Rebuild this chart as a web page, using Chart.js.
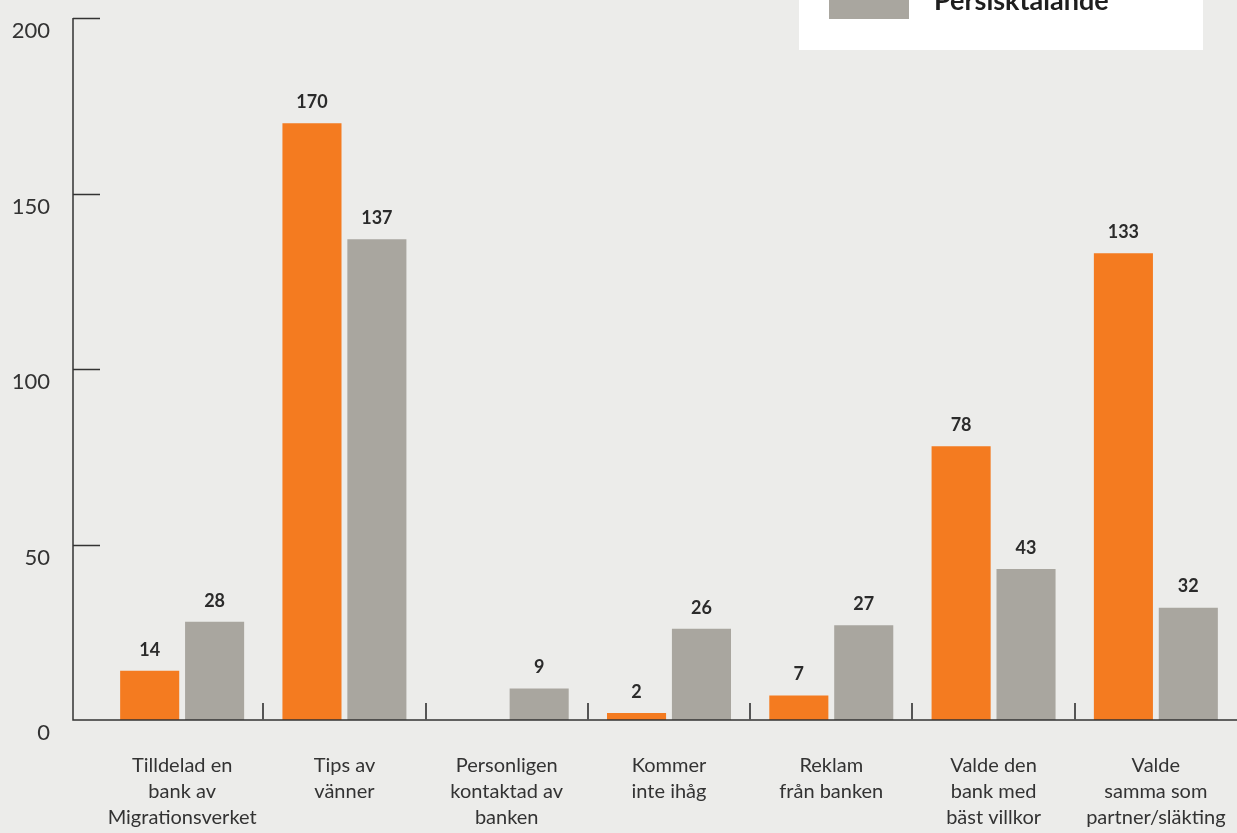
<!DOCTYPE html>
<html>
<head>
<meta charset="utf-8">
<script src="https://cdn.jsdelivr.net/npm/chart.js@4.4.1/dist/chart.umd.min.js"></script>
<style>
  html, body { margin: 0; padding: 0; background: #ececea; }
  #wrap { width: 1237px; height: 833px; position: relative; }
</style>
</head>
<body>
<div id="wrap"><canvas id="bankChart"></canvas></div>
<script>
// svar per kategori
var categories = [
  ['Tilldelad en', 'bank av', 'Migrationsverket'],
  ['Tips av', 'vänner'],
  ['Personligen', 'kontaktad av', 'banken'],
  ['Kommer', 'inte ihåg'],
  ['Reklam', 'från banken'],
  ['Valde den', 'bank med', 'bäst villkor'],
  ['Valde', 'samma som', 'partner/släkting']
];
var arabicValues = [14, 170, 0, 2, 7, 78, 133];
var persianValues = [28, 137, 9, 26, 27, 43, 32];
var yTicks = [0, 50, 100, 150, 200];

var ORANGE = '#f47b20';
var GREY = '#a9a69f';
var INK = '#2b2b2b';
var FONT = 'Lato, "Open Sans", sans-serif';

// axlar: lodrät linje till vänster, korta streck vid varje värde, streck mellan grupperna
var axisLines = {
  id: 'axisLines',
  afterDatasetsDraw: function(chart) {
    var ctx = chart.ctx, area = chart.chartArea;
    var x = chart.scales.x, y = chart.scales.y;
    var axisX = area.left - 28;
    ctx.save();
    ctx.strokeStyle = '#333';
    ctx.lineWidth = 1.5;
    ctx.beginPath();
    ctx.moveTo(axisX, y.getPixelForValue(200));
    ctx.lineTo(axisX, y.getPixelForValue(0));
    ctx.lineTo(chart.width, y.getPixelForValue(0));
    yTicks.forEach(function(v) {
      if (v === 0) return;
      var py = Math.round(y.getPixelForValue(v)) + 0.5;
      ctx.moveTo(axisX, py);
      ctx.lineTo(area.left - 1, py);
    });
    ctx.stroke();
    ctx.strokeStyle = '#555';
    ctx.lineWidth = 2;
    ctx.beginPath();
    for (var i = 0; i < categories.length - 1; i++) {
      var px = Math.round((x.getPixelForValue(i) + x.getPixelForValue(i + 1)) / 2);
      ctx.moveTo(px, y.getPixelForValue(0));
      ctx.lineTo(px, y.getPixelForValue(0) - 17);
    }
    ctx.stroke();
    ctx.restore();
  }
};

// siffror ovanför staplarna
var barValues = {
  id: 'barValues',
  afterDatasetsDraw: function(chart) {
    var ctx = chart.ctx;
    ctx.save();
    ctx.font = 'bold 18px ' + FONT;
    ctx.fillStyle = INK;
    ctx.textAlign = 'center';
    ctx.textBaseline = 'middle';
    chart.data.datasets.forEach(function(ds, di) {
      chart.getDatasetMeta(di).data.forEach(function(bar, i) {
        if (!ds.data[i]) return;
        ctx.fillText(ds.data[i], bar.x, bar.y - 21);
      });
    });
    ctx.restore();
  }
};

// förklaringsruta uppe till höger
var legendBox = {
  id: 'legendBox',
  afterDraw: function(chart) {
    var ctx = chart.ctx;
    var sets = chart.data.datasets;
    ctx.save();
    ctx.fillStyle = '#ffffff';
    ctx.fillRect(799, 0, 404, 50);
    ctx.font = 'bold 27px ' + FONT;
    ctx.textBaseline = 'alphabetic';
    sets.forEach(function(ds, i) {
      var bottom = 19 - (sets.length - 1 - i) * 48;
      ctx.fillStyle = ds.backgroundColor;
      ctx.fillRect(829, bottom - 32, 80, 32);
      ctx.fillStyle = '#1e1e1e';
      ctx.fillText(ds.label, 934, bottom - 9);
    });
    ctx.restore();
  }
};

new Chart(document.getElementById('bankChart'), {
  type: 'bar',
  data: {
    labels: categories,
    datasets: [
      { label: 'Arabisktalande', data: arabicValues, backgroundColor: ORANGE },
      { label: 'Persisktalande', data: persianValues, backgroundColor: GREY }
    ]
  },
  options: {
    responsive: true,
    maintainAspectRatio: false,
    animation: false,
    layout: { padding: { top: 18, right: 0, left: 0, bottom: 0 } },
    datasets: { bar: { categoryPercentage: 0.8, barPercentage: 0.91 } },
    plugins: {
      legend: { display: false },
      tooltip: { enabled: false }
    },
    scales: {
      x: {
        grid: { display: false, drawTicks: false },
        border: { display: false },
        ticks: {
          color: '#333',
          font: { family: FONT, size: 20, lineHeight: 1.3 },
          padding: 33,
          maxRotation: 0,
          autoSkip: false
        },
        afterFit: function(s) {
          s.height = 113;
          s.paddingLeft = 0;
          s.paddingRight = 0;
        }
      },
      y: {
        min: 0,
        max: 200,
        grid: { display: false, drawTicks: false },
        border: { display: false },
        afterBuildTicks: function(s) {
          s.ticks = yTicks.map(function(v) { return { value: v }; });
        },
        ticks: {
          color: '#333',
          font: { family: FONT, size: 22 },
          padding: 51,
          labelOffset: 13
        },
        afterFit: function(s) {
          s.width = 101;
          s.paddingTop = 0;
          s.paddingBottom = 0;
        }
      }
    }
  },
  plugins: [axisLines, barValues, legendBox]
});
</script>
</body>
</html>
